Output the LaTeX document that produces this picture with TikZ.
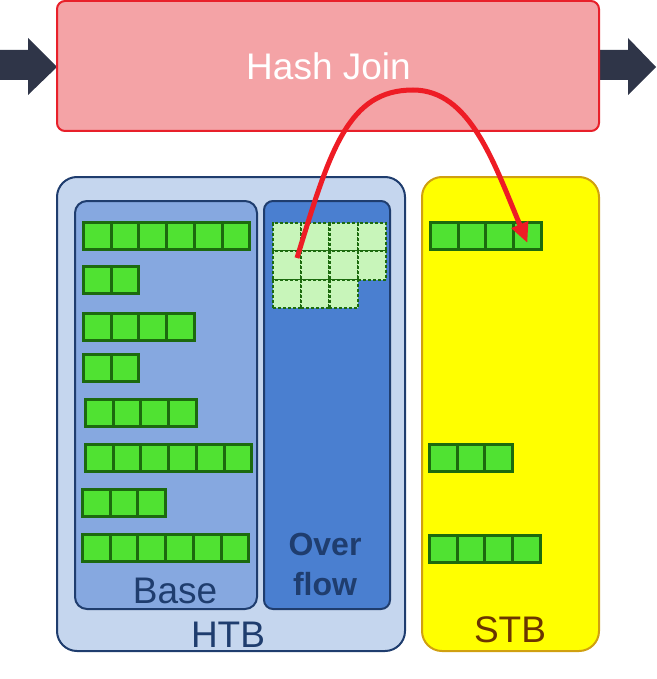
\documentclass[tikz,border=0pt]{standalone}
\usepackage{fontspec}
\setmainfont{Liberation Sans}
\usetikzlibrary{arrows.meta}
\definecolor{hashfill}{HTML}{F4A3A6}
\definecolor{hashline}{HTML}{E8202A}
\definecolor{htbfill}{HTML}{C5D6EE}
\definecolor{bluedark}{HTML}{1F3D6E}
\definecolor{basefill}{HTML}{86A8E0}
\definecolor{ovffill}{HTML}{4A7FD0}
\definecolor{stbfill}{HTML}{FFFF00}
\definecolor{stbline}{HTML}{D0A010}
\definecolor{stbtext}{HTML}{6B3500}
\definecolor{cellfill}{HTML}{50E232}
\definecolor{cellline}{HTML}{1C6A0E}
\definecolor{ocellfill}{HTML}{C8F5BA}
\definecolor{redarrow}{HTML}{EE1C25}
\definecolor{navy}{HTML}{2F3548}
\newcommand\greenrow[4]{%
  \foreach \i in {1,...,#4}{%
    \node[cell] (#1-\i) at ({#2+15.35+(\i-1)*27.7}, {-(#3+15)}) {};
  }%
}
\begin{document}
\begin{tikzpicture}[x=1pt,y=1pt,
  box/.style={draw, line width=2pt, inner sep=0pt, outer sep=0pt},
  cell/.style={draw=cellline, fill=cellfill, line width=3pt, minimum width=27.7pt, minimum height=27pt, inner sep=0pt, outer sep=0pt},
  ocell/.style={draw=cellline, fill=ocellfill, line width=2.3pt, dash pattern=on 3pt off 2pt, minimum width=28.3pt, minimum height=28.5pt, inner sep=0pt, outer sep=0pt},
  lbl/.style={font=\fontsize{37}{40}\selectfont, inner sep=0pt, anchor=base},
  blbl/.style={font=\fontsize{32}{36}\selectfont\bfseries, inner sep=0pt, anchor=base, text=bluedark},
  bigarrow/.style={fill=navy},
  redconn/.style={draw=redarrow, line width=5pt, -{Triangle[length=20pt,width=17pt]}}
]
\useasboundingbox (0,0) rectangle (656,-679);

% input / output arrows
\fill[bigarrow] (0,-50) -- (28,-50) -- (28,-38) -- (57,-67) -- (28,-95) -- (28,-80) -- (0,-80) -- cycle;
\fill[bigarrow] (599,-50) -- (628,-50) -- (628,-38) -- (656,-67) -- (628,-95) -- (628,-80) -- (599,-80) -- cycle;

% Hash join box
\node[box, draw=hashline, fill=hashfill, rounded corners=8pt, minimum width=542pt, minimum height=130pt] (hash) at (328,-66) {};
\node[lbl, text=white] (hashtxt) at (328.5,-80) {Hash Join};

% HTB
\node[box, draw=bluedark, fill=htbfill, rounded corners=20pt, minimum width=348pt, minimum height=474pt] (htb) at (231,-414) {};
\node[box, draw=bluedark, fill=basefill, rounded corners=12pt, minimum width=182pt, minimum height=408pt] (base) at (166,-405) {};
\node[box, draw=bluedark, fill=ovffill, rounded corners=9pt, minimum width=126pt, minimum height=408pt] (ovf) at (327,-405) {};

% STB
\node[box, draw=stbline, fill=stbfill, rounded corners=20pt, minimum width=177pt, minimum height=474pt] (stb) at (510.5,-414) {};

% labels
\node[lbl, text=bluedark] (basetxt) at (175,-603) {Base};
\node[lbl, text=bluedark] (htbtxt) at (228,-647) {HTB};
\node[blbl] (ovtxt1) at (325,-555) {Over};
\node[blbl] (ovtxt2) at (325,-595) {flow};
\node[lbl, text=stbtext] (stbtxt) at (510,-642) {STB};

% base rows
\greenrow{b1}{82}{221}{6}
\greenrow{b2}{82}{265}{2}
\greenrow{b3}{82}{312}{4}
\greenrow{b4}{82}{353}{2}
\greenrow{b5}{84}{398}{4}
\greenrow{b6}{84}{443}{6}
\greenrow{b7}{81}{488}{3}
\greenrow{b8}{81}{533}{6}

% STB rows
\greenrow{s1}{429}{221}{4}
\greenrow{s2}{428}{443}{3}
\greenrow{s3}{428}{534}{4}

% overflow cells
\foreach \r/\n in {1/4,2/4,3/3}{
  \foreach \i in {1,...,\n}{
    \node[ocell] (o\r-\i) at ({272+15+(\i-1)*28.3}, {-(222+15+(\r-1)*28.5)}) {};
  }
}

% red connector
\coordinate (apex) at (413,-90);
\draw[redconn] ([shift={(10pt,7.5pt)}]o2-1.center) .. controls (330,-150) and (348,-90) .. (apex)
  .. controls (470,-90) and (494,-163) .. ([yshift=-7pt]s1-4.center);
\end{tikzpicture}
\end{document}
